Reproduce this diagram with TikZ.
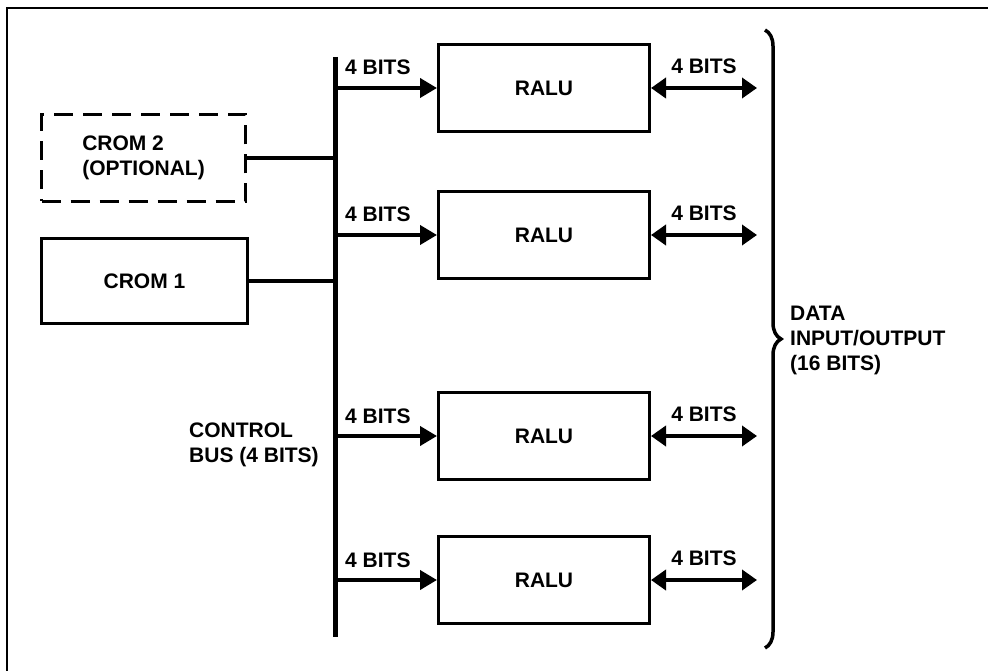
\documentclass[tikz,border=0pt]{standalone}
\usepackage{fontspec}
\setmainfont{Liberation Sans}
\usepackage{pgf,tikz}
\usetikzlibrary{arrows,arrows.meta,decorations.pathreplacing}

\begin{document}
\begin{tikzpicture}[x=1pt,y=-1pt,
  font=\fontsize{21}{25}\selectfont\bfseries,
  box/.style={draw, line width=3pt, minimum width=211pt, minimum height=87pt, inner sep=0pt},
  dashbox/.style={box, dash pattern=on 19pt off 10pt, minimum width=204pt, minimum height=87pt, align=left},
  busline/.style={line width=5pt},
  link/.style={line width=4pt},
  feed/.style={line width=4pt, -{Triangle[length=17pt,width=19pt]}},
  both/.style={line width=4pt, {Triangle[length=15pt,width=20pt]}-{Triangle[length=15pt,width=20pt]}},
  bits/.style={inner sep=0pt, anchor=base west},
  label/.style={inner sep=0pt, anchor=west, align=left}]
\useasboundingbox (0,0) rectangle (988,671);
\draw [line width=2.5pt] (7,671) -- (7,8) -- (988,8);

% control roms and bus
\coordinate (bustop) at (335,57);
\coordinate (busbot) at (335,637);
\draw [busline] (bustop) -- (busbot);
\node [dashbox] (crom2) at (143.5,158) {CROM 2\\(OPTIONAL)};
\node [box, minimum width=206pt, minimum height=85pt] (crom1) at (144.5,281) {CROM 1};
\draw [link] (crom2.east) -- (crom2.east -| bustop);
\draw [link] (crom1.east) -- (crom1.east -| bustop);
\node [label] (buslabel) at (189,445) {CONTROL\\BUS (4 BITS)};

% the four ralu slices
\foreach \n/\y in {1/88,2/235,3/436,4/580} {
  \node [box] (ralu\n) at (544,\y) {RALU};
  \coordinate (io\n) at (757,\y);
  \draw [feed] (ralu\n.west -| bustop) -- (ralu\n.west);
  \path (ralu\n.west -| bustop) ++(10,-13) node [bits] (lbits\n) {4 BITS};
  \draw [both] (ralu\n.east) -- node [above=12pt, inner sep=0pt] (rbits\n) {4 BITS} (io\n);
}

% data brace
\coordinate (iotop) at (765,30);
\coordinate (iobot) at (765,648);
\draw [line width=3.5pt, decorate, decoration={brace, amplitude=16pt}] (iotop) -- (iobot);
\node [label] (datalabel) at (790,340) {DATA\\INPUT/OUTPUT\\(16 BITS)};
\end{tikzpicture}
\end{document}
